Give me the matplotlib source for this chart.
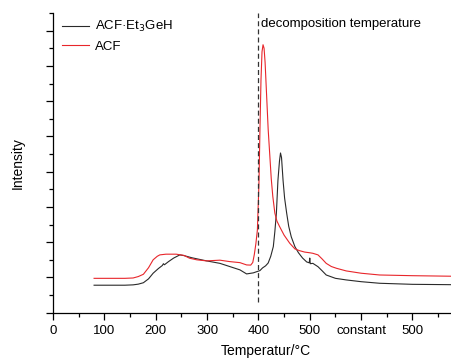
import numpy as np
import matplotlib.pyplot as plt
from matplotlib.ticker import MultipleLocator

plt.rcParams['font.family'] = ['Liberation Sans', 'DejaVu Sans']

# ACF.Et3GeH (black)
temp_ge = [80, 100, 120, 140, 156, 166, 176, 186, 195, 205, 213, 215, 217, 225, 235, 247, 255, 270, 299, 325,
           344, 364, 377, 390, 403, 408, 414, 419, 424, 429, 432, 435, 438, 441, 443, 445, 448, 451,
           455, 459, 464, 471, 478, 486, 494, 499, 500, 501, 506, 516, 524, 532, 550, 571, 600, 636,
           700, 775]
int_ge = [1.56, 1.56, 1.56, 1.56, 1.58, 1.62, 1.70, 1.92, 2.24, 2.50, 2.68, 2.78, 2.72, 2.90, 3.10, 3.28, 3.24,
          3.12, 2.94, 2.80, 2.62, 2.43, 2.20, 2.26, 2.39, 2.54, 2.66, 2.82, 3.20, 3.75, 4.60, 5.65, 7.50,
          8.60, 9.06, 8.80, 7.50, 6.50, 5.65, 4.90, 4.30, 3.75, 3.40, 3.10, 2.88, 2.83, 3.10, 2.78, 2.80,
          2.61, 2.38, 2.14, 1.95, 1.86, 1.76, 1.67, 1.61, 1.59]

# ACF (red)
temp_acf = [80, 100, 120, 140, 156, 166, 176, 186, 195, 203, 208, 220, 240, 255, 266, 280, 299, 325, 344,
            364, 377, 385, 389, 392, 395, 398, 401, 403, 405, 407, 409, 411, 413, 416, 419, 422, 425,
            428, 432, 436, 441, 450, 461, 471, 480, 490, 500, 506, 516, 524, 532, 542, 552, 571,
            600, 636, 700, 775]
int_acf = [1.95, 1.95, 1.95, 1.95, 1.97, 2.05, 2.18, 2.55, 3.00, 3.20, 3.28, 3.32, 3.32, 3.25, 3.09, 3.00,
           2.94, 2.98, 2.90, 2.84, 2.71, 2.70, 2.85, 3.30, 3.90, 4.70, 7.30, 10.4, 13.2, 14.8, 15.2,
           15.0, 14.2, 12.3, 10.4, 9.0, 7.6, 6.6, 5.65, 5.20, 4.90, 4.40, 3.94, 3.62, 3.52, 3.44, 3.40,
           3.37, 3.28, 3.05, 2.80, 2.62, 2.52, 2.37, 2.24, 2.14, 2.10, 2.07]

decomp_temp = 400
tick_pos = [0, 100, 200, 300, 400, 500, 600, 700]
tick_labels = ['0', '100', '200', '300', '400', '500', 'constant', '500']

fig = plt.figure(figsize=(4.51, 3.58), dpi=100)
ax = fig.add_axes([0.1175, 0.1265, 0.8825, 0.8372])

ax.plot(temp_ge, int_ge, color='#2a2a2a', lw=0.8, label='ACF·Et$_3$GeH')
ax.plot(temp_acf, int_acf, color='#e8262b', lw=0.8, label='ACF')
ax.plot([decomp_temp, decomp_temp], [0.6, 17], color='#333333', lw=0.9, ls=(0, (4, 2.5)))
ax.text(decomp_temp + 5, 16.4, 'decomposition temperature', fontsize=9.5, va='center', ha='left')

ax.set_xlim(0, 775)
ax.set_ylim(0, 17)
ax.set_xticks(tick_pos)
ax.set_xticklabels(tick_labels)
ax.xaxis.set_minor_locator(MultipleLocator(50))
ax.yaxis.set_major_locator(MultipleLocator(2))
ax.yaxis.set_minor_locator(MultipleLocator(1))
ax.tick_params(axis='both', which='major', direction='out', length=5, width=0.9, labelsize=9.5)
ax.tick_params(axis='both', which='minor', direction='out', length=3, width=0.9)
ax.tick_params(axis='y', which='both', labelleft=False)

for s in ['top', 'right']:
    ax.spines[s].set_visible(False)
for s in ['left', 'bottom']:
    ax.spines[s].set_linewidth(0.9)

ax.set_xlabel('Temperatur/°C', fontsize=10)
ax.xaxis.set_label_coords(0.534, -0.105)
ax.set_ylabel('Intensity', fontsize=10)
ax.yaxis.set_label_coords(-0.07, 0.5)

leg = ax.legend(loc='upper left', frameon=False, fontsize=9.5, handlelength=2.0, handletextpad=0.5,
                bbox_to_anchor=(0.0, 1.01), borderaxespad=0.3, labelspacing=0.45)

fig.savefig('out.png', dpi=100)
